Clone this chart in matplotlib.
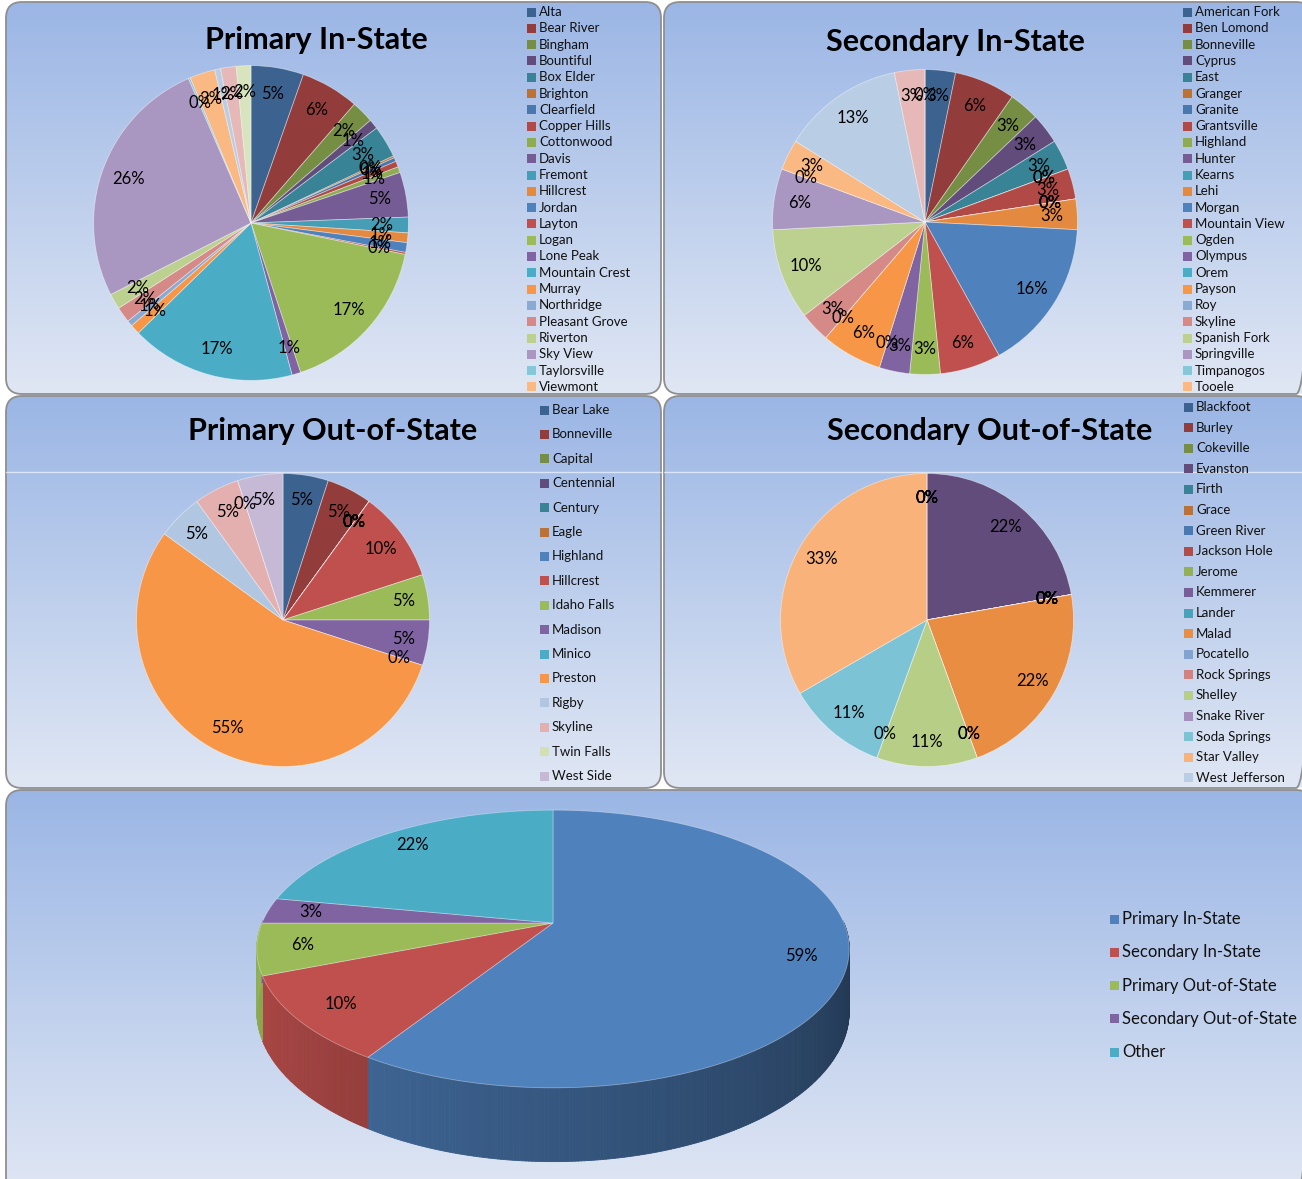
import numpy as np
import matplotlib
matplotlib.use('Agg')
import matplotlib.pyplot as plt
import matplotlib.colors as mc
from matplotlib.patches import FancyBboxPatch, Rectangle, Polygon
from matplotlib.collections import PolyCollection

plt.rcParams['font.family'] = ['Lato', 'DejaVu Sans']

# ---------------- data ----------------
pis_names = ['Alta', 'Bear River', 'Bingham', 'Bountiful', 'Box Elder', 'Brighton',
             'Clearfield', 'Copper Hills', 'Cottonwood', 'Davis', 'Fremont', 'Hillcrest',
             'Jordan', 'Layton', 'Logan', 'Lone Peak', 'Mountain Crest', 'Murray',
             'Northridge', 'Pleasant Grove', 'Riverton', 'Sky View', 'Taylorsville', 'Viewmont']
# last three slices are not shown in the (truncated) legend
pis_values = [5.4, 6.0, 2.3, 1.0, 3.3, 0.2, 0.4, 0.6, 0.6, 4.6, 1.6, 1.0, 1.0, 0.2,
              16.7, 0.9, 16.9, 1.0, 0.6, 1.6, 1.6, 26.0, 0.2, 2.6, 0.6, 1.6, 1.5]

sis_names = ['American Fork', 'Ben Lomond', 'Bonneville', 'Cyprus', 'East', 'Granger',
             'Granite', 'Grantsville', 'Highland', 'Hunter', 'Kearns', 'Lehi', 'Morgan',
             'Mountain View', 'Ogden', 'Olympus', 'Orem', 'Payson', 'Roy', 'Skyline',
             'Spanish Fork', 'Springville', 'Timpanogos', 'Tooele']
sis_values = [1, 2, 1, 1, 1, 0, 0, 1, 0, 0, 0, 1, 5, 2, 1, 1, 0, 2, 0, 1, 3, 2, 0, 1,
              4, 1, 0]

pos_names = ['Bear Lake', 'Bonneville', 'Capital', 'Centennial', 'Century', 'Eagle',
             'Highland', 'Hillcrest', 'Idaho Falls', 'Madison', 'Minico', 'Preston',
             'Rigby', 'Skyline', 'Twin Falls', 'West Side']
pos_values = [1, 1, 0, 0, 0, 0, 0, 2, 1, 1, 0, 11, 1, 1, 0, 1]

sos_names = ['Blackfoot', 'Burley', 'Cokeville', 'Evanston', 'Firth', 'Grace',
             'Green River', 'Jackson Hole', 'Jerome', 'Kemmerer', 'Lander', 'Malad',
             'Pocatello', 'Rock Springs', 'Shelley', 'Snake River', 'Soda Springs',
             'Star Valley', 'West Jefferson']
sos_values = [0, 0, 0, 2, 0, 0, 0, 0, 0, 0, 0, 2, 0, 0, 1, 0, 1, 3, 0]

tot_names = ['Primary In-State', 'Secondary In-State', 'Primary Out-of-State',
             'Secondary Out-of-State', 'Other']
tot_values = [59, 10, 6, 3, 22]

titles = ['Primary In-State', 'Secondary In-State', 'Primary Out-of-State',
          'Secondary Out-of-State']

# ---------------- colours ----------------
BASE = ['#4F81BD', '#C0504D', '#9BBB59', '#8064A2', '#4BACC6', '#F79646']


def shade(c, f):
    return tuple(np.clip(np.array(mc.to_rgb(c)) * f, 0, 1))


def tint(c, t):
    rgb = np.array(mc.to_rgb(c))
    return tuple(rgb + (1 - rgb) * t)


def palette(n, levels):
    out = []
    for i in range(n):
        kind, amt = levels[i // 6]
        c = BASE[i % 6]
        out.append(shade(c, amt) if kind == 's' else tint(c, amt))
    return out


W, H = 1302, 1179
fig = plt.figure(figsize=(W / 100, H / 100), dpi=100)
bg = fig.add_axes([0, 0, 1, 1])
bg.set_xlim(0, W)
bg.set_ylim(H, 0)
bg.axis('off')

TOP = np.array([155, 182, 229]) / 255
BOT = np.array([224, 231, 244]) / 255


def panel(x0, y0, x1, y1):
    patch = FancyBboxPatch((x0, y0), x1 - x0, y1 - y0,
                           boxstyle='round,pad=0,rounding_size=16',
                           facecolor='none', edgecolor='#8f8f8f', lw=1.3, zorder=2)
    bg.add_patch(patch)
    n = 256
    t = np.linspace(0, 1, n)[:, None]
    grad = (TOP[None, :] * (1 - t) + BOT[None, :] * t)[:, None, :]
    im = bg.imshow(grad, extent=(x0, x1, y1, y0), aspect='auto', zorder=1,
                   interpolation='bilinear')
    im.set_clip_path(patch)


panel(6, 2, 661, 394)
panel(664, 2, 1312, 394)
panel(6, 396, 661, 788)
panel(664, 396, 1312, 788)
panel(6, 790, 1312, 1195)
bg.plot([6, 661], [472, 472], color='white', lw=1, alpha=0.6, zorder=3)
bg.plot([664, 1302], [472, 472], color='white', lw=1, alpha=0.6, zorder=3)


def draw_pie(cx, cy, R, values, colors):
    ax = fig.add_axes([(cx - R) / W, 1 - (cy + R) / H, 2 * R / W, 2 * R / H])
    ax.pie(values, colors=colors, startangle=90, counterclock=False,
           autopct='%1.0f%%', pctdistance=0.83, radius=1,
           wedgeprops=dict(edgecolor=(1, 1, 1, 0.45), linewidth=0.6),
           textprops=dict(fontsize=12, color='black'))
    ax.set_xlim(-1.01, 1.01)
    ax.set_ylim(-1.01, 1.01)
    ax.set_aspect('equal')
    ax.axis('off')
    return ax


def draw_legend(names, colors, x, y0, pitch, fs=9.5, sq=9):
    for i, name in enumerate(names):
        y = y0 + i * pitch
        bg.add_patch(Rectangle((x, y - sq / 2), sq, sq, facecolor=colors[i],
                               edgecolor='none', zorder=4))
        bg.text(x + sq + 3, y, name, fontsize=fs, va='center', ha='left',
                color='#111111', zorder=4)


lv27 = [('s', 0.76), ('s', 0.92), ('s', 1.0), ('t', 0.33), ('t', 0.6)]
c1 = palette(len(pis_values), lv27)
c2 = palette(len(sis_values), lv27)
c3 = palette(len(pos_values), [('s', 0.76), ('s', 1.0), ('t', 0.55)])
c4 = palette(len(sos_values), [('s', 0.76), ('s', 0.94), ('t', 0.28), ('t', 0.6)])

draw_pie(251, 223, 159, pis_values, c1)
draw_pie(925, 222, 154, sis_values, c2)
draw_pie(283, 620, 148, pos_values, c3)
draw_pie(927, 620, 148, sos_values, c4)

tfs = 22
bg.text(316, 40, titles[0], fontsize=tfs, fontweight='bold', ha='center', va='center', zorder=4)
bg.text(955, 42, titles[1], fontsize=tfs, fontweight='bold', ha='center', va='center', zorder=4)
bg.text(333, 431, titles[2], fontsize=tfs, fontweight='bold', ha='center', va='center', zorder=4)
bg.text(990, 431, titles[3], fontsize=tfs, fontweight='bold', ha='center', va='center', zorder=4)

draw_legend(pis_names, c1, 527, 12, 16.3)
draw_legend(sis_names, c2, 1183, 12, 16.3)
draw_legend(pos_names, c3, 540, 410, 24.4)
draw_legend(sos_names, c4, 1184, 407, 20.6)

# ---------------- 3D pie ----------------
CX, CY, A, B, K, D = 553, 923, 291, 134, 0.187, 60


def proj(theta, r, h):
    t = np.radians(theta)
    u = r * np.cos(t)
    v = r * np.sin(t)
    p = 1 / (1 + K * v)
    return CX + A * u * p, CY - B * v * p + D * h * p


tot_colors = BASE[:5]
fr = np.array(tot_values, float) / np.sum(tot_values)
cum = np.concatenate([[0], np.cumsum(fr)])
starts = 90 - 360 * cum[:-1]
ends = 90 - 360 * cum[1:]

# side walls
quads, qcols = [], []
for i in range(len(tot_values)):
    angs = np.linspace(starts[i], ends[i], max(2, int(abs(starts[i] - ends[i]) / 0.5) + 2))
    for a1, a2 in zip(angs[:-1], angs[1:]):
        am = 0.5 * (a1 + a2)
        if np.sin(np.radians(am)) >= 0.02:
            continue
        amod = am % 360
        f = np.clip(0.86 - (amod - 210) * 0.0031, 0.36, 0.95)
        p1, p2 = proj(a1, 1, 0), proj(a2, 1, 0)
        p3, p4 = proj(a2, 1, 1), proj(a1, 1, 1)
        quads.append([p1, p2, p3, p4])
        qcols.append(shade(tot_colors[i], f))
bg.add_collection(PolyCollection(quads, facecolors=qcols, edgecolors=qcols,
                                 linewidths=0.6, zorder=5))

# top faces
for i in range(len(tot_values)):
    angs = np.linspace(starts[i], ends[i], 200)
    pts = [proj(0, 0, 0)] + [proj(a, 1, 0) for a in angs]
    bg.add_patch(Polygon(pts, closed=True, facecolor=tot_colors[i],
                         edgecolor=(1, 1, 1, 0.35), lw=0.6, zorder=6))
    mid = 0.5 * (starts[i] + ends[i])
    lx, ly = proj(mid, 0.85, 0)
    bg.text(lx, ly, '%d%%' % round(fr[i] * 100), fontsize=12, ha='center',
            va='center', zorder=7, color='black')

draw_legend(tot_names, tot_colors, 1110, 919, 33.25, fs=12, sq=9)

fig.savefig('out.png', dpi=100)
